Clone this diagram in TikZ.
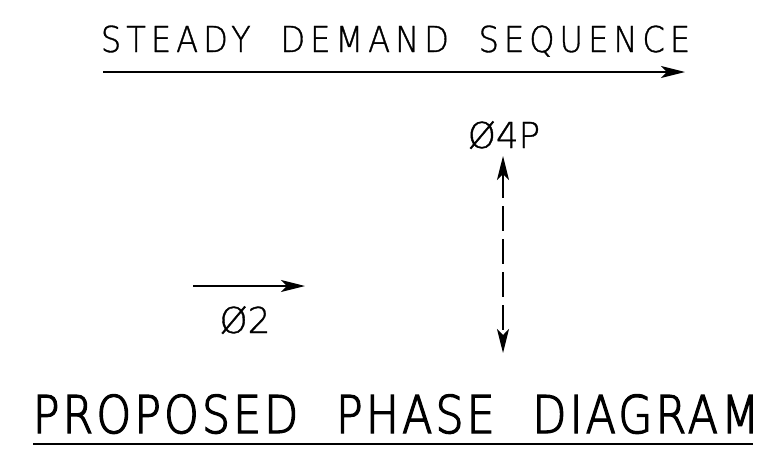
\documentclass[tikz,border=0pt]{standalone}
\usepackage{fontspec}
\setmainfont{DejaVu Sans}
\newfontfamily\cadtitle{DejaVu Sans ExtraLight}[FakeStretch=0.9, FakeBold=1, LetterSpace=14, WordSpace=1.95]
\newfontfamily\cadlight{DejaVu Sans ExtraLight}[FakeBold=1]
\newfontfamily\cadheavy{DejaVu Sans ExtraLight}[FakeStretch=0.85, FakeBold=2.5, LetterSpace=6, WordSpace=2.2]
\usetikzlibrary{arrows.meta}

\begin{document}
\begin{tikzpicture}[
    x=1pt, y=-1pt,
    >={Stealth[length=24pt,width=12pt,inset=6pt]},
    lbl/.style={inner sep=0pt, anchor=base},
    arr/.style={->, line width=1.3pt}
  ]
    \useasboundingbox (0,0) rectangle (784,466);
    \node[lbl, font=\cadtitle\fontsize{35.7}{40}\selectfont] (seq) at (395.5,52) {STEADY DEMAND SEQUENCE};
    \coordinate (seqA) at (103,72);
    \coordinate (seqB) at (685,72);
    \draw[arr] (seqA) -- (seqB);
    \node[lbl, font=\cadlight\fontsize{35.7}{40}\selectfont] (ph4) at (504,148) {Ø4P};
    \coordinate (ph4top) at (503,156);
    \coordinate (ph4bot) at (503,353);
    \draw[arr, <->, dash pattern=on 25pt off 8pt] (ph4top) -- (ph4bot);
    \coordinate (ph2A) at (193,286);
    \coordinate (ph2B) at (305,286);
    \draw[arr] (ph2A) -- (ph2B);
    \node[lbl, font=\cadlight\fontsize{35.7}{40}\selectfont] (ph2) at (245,333) {Ø2};
    \node[lbl, font=\cadheavy\fontsize{52}{56}\selectfont] (title) at (396,433) {PROPOSED PHASE DIAGRAM};
    \coordinate (ulA) at (33,444);
    \coordinate (ulB) at (753,444);
    \draw[line width=1.5pt] (ulA) -- (ulB);
  \end{tikzpicture}
\end{document}
